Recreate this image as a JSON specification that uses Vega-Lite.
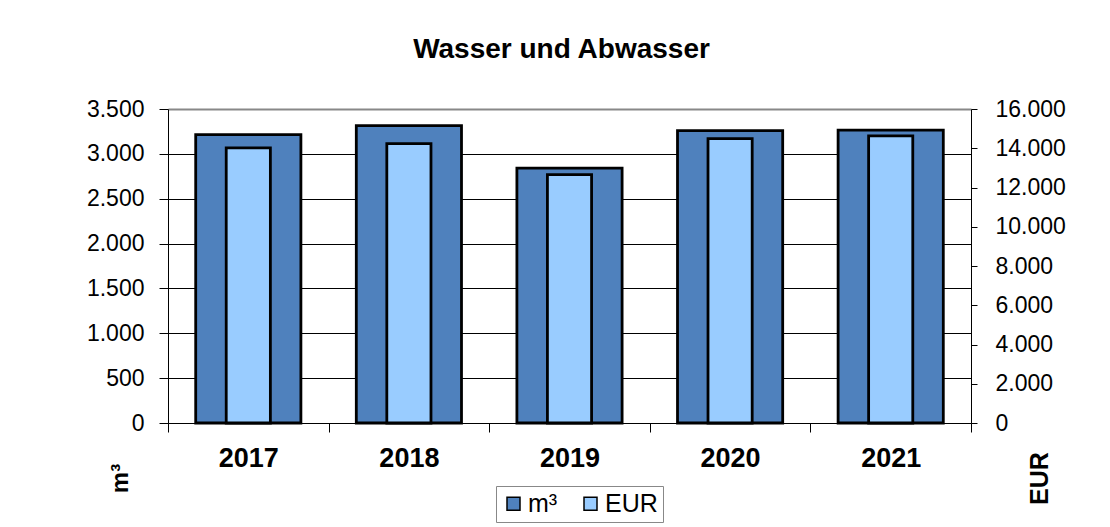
{
  "$schema": "https://vega.github.io/schema/vega-lite/v6.json",
  "autosize": {"type": "none"},
  "padding": {"left": 168, "top": 109, "right": 139, "bottom": 104},
  "width": 803,
  "height": 314,
  "background": "white",
  "title": {
    "text": "Wasser und Abwasser",
    "fontSize": 28,
    "fontWeight": "bold",
    "font": "Liberation Sans",
    "color": "black",
    "anchor": "middle",
    "frame": "group",
    "baseline": "alphabetic",
    "offset": 12,
    "dx": -8
  },
  "data": {
    "values": [
      {"Jahr": "2017", "m3": 3215, "EUR": 14020},
      {"Jahr": "2018", "m3": 3315, "EUR": 14240},
      {"Jahr": "2019", "m3": 2840, "EUR": 12660},
      {"Jahr": "2020", "m3": 3260, "EUR": 14490},
      {"Jahr": "2021", "m3": 3265, "EUR": 14630}
    ]
  },
  "encoding": {
    "x": {
      "field": "Jahr",
      "type": "nominal",
      "sort": null,
      "scale": {"paddingInner": 0, "paddingOuter": 0},
      "axis": {
        "title": null,
        "labelAngle": 0,
        "labelFontSize": 27,
        "labelFontWeight": "bold",
        "labelColor": "black",
        "labelPadding": 13,
        "tickSize": 9,
        "tickColor": "black",
        "tickBand": "extent",
        "domainColor": "black",
        "grid": false
      }
    }
  },
  "layer": [
    {
      "mark": {"type": "bar", "width": {"band": 0.655}, "stroke": "black", "strokeWidth": 2.8},
      "encoding": {
        "y": {
          "field": "m3",
          "type": "quantitative",
          "scale": {"domain": [0, 3500], "nice": false},
          "axis": {
            "orient": "left",
            "values": [0, 500, 1000, 1500, 2000, 2500, 3000, 3500],
            "labelExpr": "replace(format(datum.value, ','), ',', '.')",
            "labelFontSize": 23,
            "labelColor": "black",
            "labelPadding": 15,
            "tickSize": 9,
            "tickColor": "black",
            "domainColor": "black",
            "grid": true,
            "gridColor": {"condition": {"test": "datum.value === 3500", "value": "#888888"}, "value": "black"},
            "gridWidth": {"condition": {"test": "datum.value === 3500", "value": 2}, "value": 1},
            "title": "m³",
            "titleFontSize": 24,
            "titleFontWeight": "bold",
            "titleColor": "black",
            "titleAngle": -90,
            "titleAlign": "center",
            "titleBaseline": "middle",
            "titleX": -48,
            "titleY": 369
          }
        },
        "color": {
          "datum": "m³",
          "scale": {"domain": ["m³", "EUR"], "range": ["#4F81BD", "#99CCFF"]},
          "legend": {
            "title": null,
            "orient": "none",
            "legendX": 328,
            "legendY": 377,
            "direction": "horizontal",
            "strokeColor": "#888888",
            "fillColor": "white",
            "padding": 5,
            "labelFontSize": 25,
            "labelColor": "black",
            "labelOffset": 2,
            "columnPadding": 20,
            "symbolType": "square",
            "symbolSize": 169,
            "symbolStrokeColor": "black",
            "symbolStrokeWidth": 1.5,
            "symbolOpacity": 1
          }
        }
      }
    },
    {
      "mark": {"type": "bar", "width": {"band": 0.275}, "stroke": "black", "strokeWidth": 2.8},
      "encoding": {
        "y": {
          "field": "EUR",
          "type": "quantitative",
          "scale": {"domain": [0, 16000], "nice": false},
          "axis": {
            "orient": "right",
            "values": [0, 2000, 4000, 6000, 8000, 10000, 12000, 14000, 16000],
            "labelExpr": "replace(format(datum.value, ','), ',', '.')",
            "labelFontSize": 23,
            "labelColor": "black",
            "labelPadding": 18,
            "tickSize": 6,
            "tickColor": "black",
            "domainColor": "black",
            "grid": false,
            "title": "EUR",
            "titleFontSize": 25,
            "titleFontWeight": "bold",
            "titleColor": "black",
            "titleAngle": -90,
            "titleAlign": "center",
            "titleBaseline": "middle",
            "titleX": 68,
            "titleY": 369
          }
        },
        "color": {"datum": "EUR"}
      }
    }
  ],
  "resolve": {"scale": {"y": "independent"}},
  "config": {
    "font": "Liberation Sans",
    "view": {"stroke": null},
    "axis": {"labelFont": "Liberation Sans", "titleFont": "Liberation Sans"},
    "legend": {"labelFont": "Liberation Sans"}
  }
}
